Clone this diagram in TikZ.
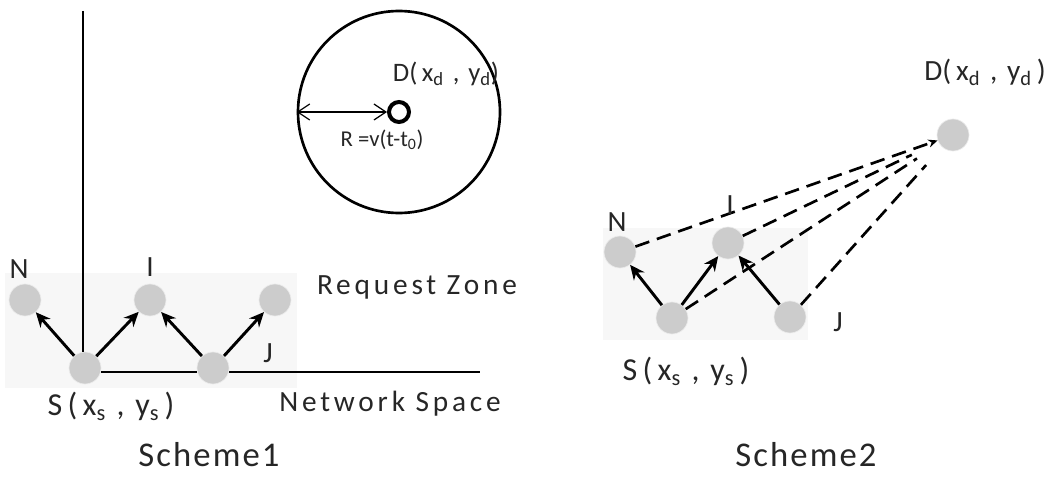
\documentclass[tikz,border=0pt]{standalone}
\usepackage{fontspec}
\setmainfont{Carlito}
\newfontfamily\spacedfont[LetterSpace=13]{Carlito}
\newfontfamily\schemefont[LetterSpace=6]{Carlito}
\usetikzlibrary{arrows.meta}
\begin{document}
\begin{tikzpicture}[x=0.75pt,y=-0.75pt,
  txt/.style={inner sep=0pt, text=black!85},
  lbl/.style={txt, font=\fontsize{22}{24}\selectfont},
  host/.style={circle, fill=black!20, draw=black!8, line width=0.5pt, minimum size=24pt, inner sep=0pt},
  zone/.style={fill=black!3, draw=none},
  arr/.style={line width=2.2pt, -{Stealth[length=11pt,width=10pt]}},
  dsh/.style={line width=2pt, dash pattern=on 11pt off 6pt},
  thin/.style={line width=1.2pt}]
\useasboundingbox (0,0) rectangle (1063,481);
% ---------- Scheme 1 ----------
\fill[zone] (5,273) rectangle (297,388);
\node[host] (N1) at (25,300) {};
\node[host] (I1) at (150,300) {};
\node[host] (R1) at (275,300) {};
\node[host] (S1) at (85,368) {};
\node[host] (J1) at (213,368) {};
\coordinate (top1) at (83,11);
\coordinate (end1) at (480,372);
\draw[thin] (top1) -- (top1 |- S1.north);
\draw[thin] (S1.east |- end1) -- (J1.west |- end1);
\draw[thin] (J1.east |- end1) -- (end1);
\draw[arr] (S1) -- (N1);
\draw[arr] (S1) -- (I1);
\draw[arr] (J1) -- (I1);
\draw[arr] (J1) -- (R1);
\node[lbl] at (19,269) {N};
\node[lbl] at (150,267) {I};
\node[lbl] at (268,353) {J};
\node[txt, font=\spacedfont\fontsize{22}{24}\selectfont] at (417,287) {Request Zone};
\node[txt, font=\spacedfont\fontsize{22}{24}\selectfont] at (390,404) {Network Space};
\node[txt, font=\fontsize{24}{26}\selectfont] at (111,406) {S\,(\,x\textsubscript{s}\,\,,\,\,y\textsubscript{s}\,)};
\node[txt, font=\schemefont\fontsize{26}{28}\selectfont] at (209,455) {Scheme1};
% request zone circle
\node[circle, draw, line width=2pt, minimum size=151.5pt, inner sep=0pt] (Z) at (399,112) {};
\node[circle, draw, line width=3pt, minimum size=15pt, inner sep=0pt] (D1) at (399,112) {};
\draw[line width=0.9pt, {Straight Barb[length=9pt,width=12pt]}-{Straight Barb[length=9pt,width=12pt]}] (Z.west) -- (D1.west);
\node[txt, font=\fontsize{20}{22}\selectfont] at (446,74) {D(\,x\textsubscript{d}\,\,,\,\,y\textsubscript{d})};
\node[txt, font=\fontsize{17}{19}\selectfont] at (382,140) {R =v(t-t\textsubscript{0})};
% ---------- Scheme 2 ----------
\fill[zone] (603,228) rectangle (808,340);
\node[host] (N2) at (620,252) {};
\node[host] (I2) at (728,243) {};
\node[host] (S2) at (672,318) {};
\node[host] (J2) at (790,317) {};
\node[host] (D2) at (953,135) {};
\draw[arr] (S2) -- (N2);
\draw[arr] (S2) -- (I2);
\draw[arr] (J2) -- (I2);
\draw[dsh, -{Stealth[length=7pt,width=6pt]}] (N2) -- (D2);
\draw[dsh, shorten >=22pt] (I2) -- (D2);
\draw[dsh, shorten >=20pt] (S2) -- (D2);
\draw[dsh, shorten >=18pt] (J2) -- (D2);
\node[lbl] at (617,222) {N};
\node[lbl] at (730,205) {I};
\node[lbl] at (838,322) {J};
\node[txt, font=\fontsize{24}{26}\selectfont] at (686,371) {S\,(\,x\textsubscript{s}\,\,,\,\,y\textsubscript{s}\,)};
\node[txt, font=\fontsize{22}{24}\selectfont] at (985,72) {D(\,x\textsubscript{d}\,\,,\,\,y\textsubscript{d}\,)};
\node[txt, font=\schemefont\fontsize{26}{28}\selectfont] at (806,455) {Scheme2};
\end{tikzpicture}
\end{document}
